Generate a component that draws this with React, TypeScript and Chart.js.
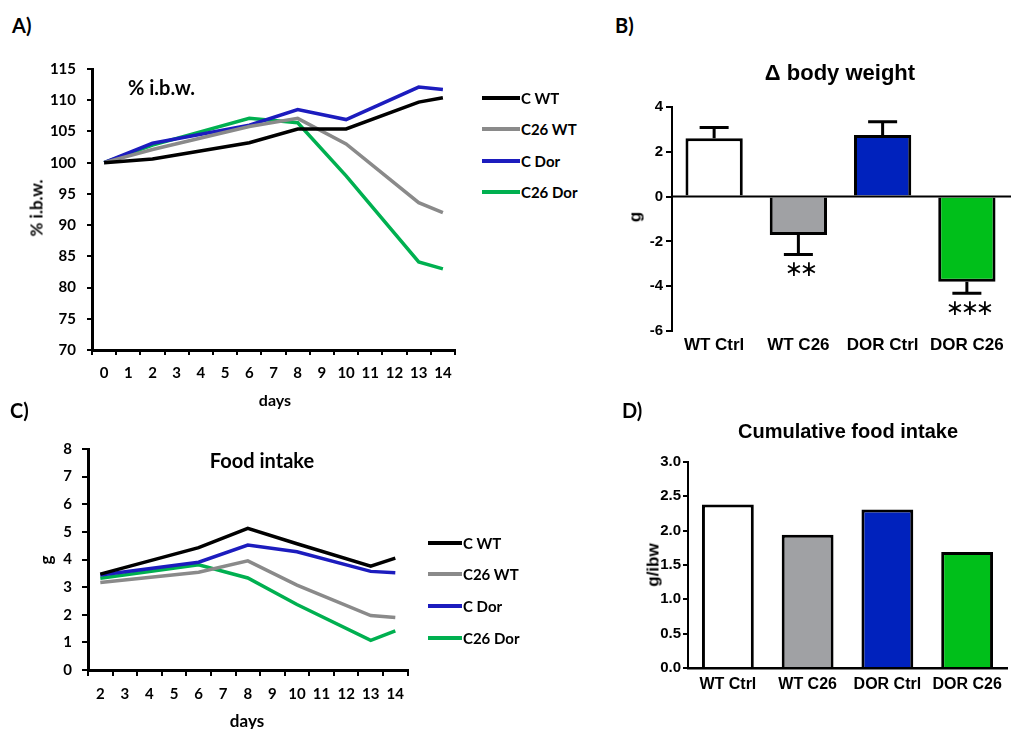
import React, { useEffect, useRef } from "react";
import { Chart, registerables } from "chart.js";
Chart.register(...registerables);

// ---------- Data ----------
const daysA = ["0", "1", "2", "3", "4", "5", "6", "7", "8", "9", "10", "11", "12", "13", "14"];
const ibwCWT = [100, null, 100.6, null, null, null, 103.2, null, 105.4, null, 105.4, null, null, 109.7, 110.4];
const ibwC26WT = [100, null, 102.1, null, null, null, 105.8, null, 107.1, null, 103.0, null, null, 93.6, 92.0];
const ibwCDor = [100, null, 103.1, null, null, null, 106.0, null, 108.5, null, 106.9, null, null, 112.1, 111.7];
const ibwC26Dor = [100, null, 102.8, null, null, null, 107.1, null, 106.4, null, 97.9, null, null, 84.1, 83.0];

const daysC = ["2", "3", "4", "5", "6", "7", "8", "9", "10", "11", "12", "13", "14"];
const foodCWT = [3.47, null, null, null, 4.43, null, 5.13, null, 4.57, null, null, 3.76, 4.05];
const foodC26WT = [3.17, null, null, null, 3.54, null, 3.95, null, 3.07, null, null, 1.97, 1.9];
const foodCDor = [3.44, null, null, null, 3.9, null, 4.52, null, 4.28, null, null, 3.57, 3.52];
const foodC26Dor = [3.32, null, null, null, 3.81, null, 3.33, null, 2.37, null, null, 1.07, 1.42];

const seriesNames = ["C WT", "C26 WT", "C Dor", "C26 Dor"];
const lineColors = ["#000000", "#8a8a8a", "#1c1cbe", "#00b050"];

const groups = ["WT Ctrl", "WT C26", "DOR Ctrl", "DOR C26"];
const barColors = ["#ffffff", "#a0a1a4", "#0022bd", "#00bf1a"];
const bwDelta = [2.6, -1.71, 2.75, -3.8];
const bwError = [0.49, 0.87, 0.59, 0.52];
const bwSig = ["", "**", "", "***"];

const cumFood = [2.38, 1.94, 2.31, 1.69];

const ARIAL = '"Liberation Sans", Arial, sans-serif';
const CALIBRI = 'Lato, "Open Sans", sans-serif';

// ---------- helpers ----------
function ChartBox(props: { left: number; top: number; width: number; height: number; make: () => any }) {
  const ref = useRef<HTMLCanvasElement>(null);
  useEffect(() => {
    const chart = new Chart(ref.current as HTMLCanvasElement, props.make());
    return () => chart.destroy();
  }, []);
  return (
    <div style={{ position: "absolute", left: props.left, top: props.top, width: props.width, height: props.height }}>
      <canvas ref={ref} width={props.width} height={props.height} style={{ width: props.width, height: props.height, display: "block" }} />
    </div>
  );
}

function Txt(props: { x: number; y: number; text: string; size: number; family: string; align?: "left" | "center" }) {
  const tx = props.align === "left" ? "0" : "-50%";
  return (
    <div
      style={{
        position: "absolute",
        left: props.x,
        top: props.y,
        transform: `translate(${tx}, -50%)`,
        fontFamily: props.family,
        fontWeight: 700,
        fontSize: props.size,
        lineHeight: 1,
        whiteSpace: "nowrap",
        color: "#000",
      }}
    >
      {props.text}
    </div>
  );
}

function RotTxt(props: { x: number; y: number; text: string; size: number; family: string }) {
  return (
    <div
      style={{
        position: "absolute",
        left: props.x,
        top: props.y,
        transform: "translate(-50%, -50%) rotate(-90deg)",
        fontFamily: props.family,
        fontWeight: 700,
        fontSize: props.size,
        lineHeight: 1,
        whiteSpace: "nowrap",
        color: "#000",
      }}
    >
      {props.text}
    </div>
  );
}

function Legend(props: { x1: number; x2: number; ys: number[]; size: number }) {
  return (
    <>
      {seriesNames.map((n, i) => (
        <React.Fragment key={n}>
          <div style={{ position: "absolute", left: props.x1, top: props.ys[i] - 2, width: props.x2 - props.x1, height: 4, background: lineColors[i] }} />
          <Txt x={props.x2 + 1} y={props.ys[i]} text={n} size={props.size} family={CALIBRI} align="left" />
        </React.Fragment>
      ))}
    </>
  );
}

function fixSize(w: number) {
  return (scale: any) => {
    scale.width = w;
  };
}
function fixHeight(h: number) {
  return (scale: any) => {
    scale.height = h;
  };
}

function lineConfig(labels: string[], data: (number | null)[][], y: { min: number; max: number; step: number }, pad: any, wY: number, hX: number, tl: number, yPad: number, xPad: number) {
  return {
    type: "line",
    data: {
      labels,
      datasets: data.map((d, i) => ({
        label: seriesNames[i],
        data: d,
        borderColor: lineColors[i],
        backgroundColor: lineColors[i],
        borderWidth: 3.5,
        pointRadius: 0,
        tension: 0,
        spanGaps: true,
        fill: false,
      })),
    },
    options: {
      responsive: false,
      animation: false,
      layout: { padding: pad },
      plugins: { legend: { display: false }, title: { display: false }, tooltip: { enabled: false } },
      scales: {
        x: {
          type: "category",
          offset: true,
          afterFit: fixHeight(hX),
          grid: { display: true, offset: true, drawOnChartArea: false, drawTicks: true, tickLength: tl, color: "#000", tickColor: "#000", lineWidth: 2 },
          border: { display: true, color: "#000", width: 3 },
          ticks: { color: "#000", font: { family: CALIBRI, weight: "bold", size: 15 }, padding: xPad, maxRotation: 0, autoSkip: false },
        },
        y: {
          min: y.min,
          max: y.max,
          afterFit: fixSize(wY),
          grid: { display: true, drawOnChartArea: false, drawTicks: true, tickLength: tl, color: "#000", tickColor: "#000", lineWidth: 2 },
          border: { display: true, color: "#000", width: 3 },
          ticks: { stepSize: y.step, color: "#000", font: { family: CALIBRI, weight: "bold", size: 15 }, padding: yPad },
        },
      },
    },
  };
}

const errPlugin = {
  id: "errbars",
  afterDatasetsDraw(chart: any) {
    const meta = chart.getDatasetMeta(0);
    const ys = chart.scales.y;
    const ctx = chart.ctx;
    const area = chart.chartArea;
    ctx.save();
    // zero line
    const y0line = ys.getPixelForValue(0);
    ctx.strokeStyle = "#000";
    ctx.lineWidth = 2;
    ctx.beginPath();
    ctx.moveTo(area.left, y0line);
    ctx.lineTo(area.right + 2, y0line);
    ctx.stroke();
    ctx.lineWidth = 3;
    meta.data.forEach((bar: any, i: number) => {
      const v = bwDelta[i];
      const e = bwError[i];
      const end = v >= 0 ? v + e : v - e;
      const y0 = ys.getPixelForValue(v);
      const y1 = ys.getPixelForValue(end);
      ctx.beginPath();
      ctx.moveTo(bar.x, y0);
      ctx.lineTo(bar.x, y1);
      ctx.moveTo(bar.x - 14.5, y1);
      ctx.lineTo(bar.x + 14.5, y1);
      ctx.stroke();
      const s = bwSig[i];
      if (s) {
        ctx.fillStyle = "#000";
        ctx.font = '22px "DejaVu Sans"';
        ctx.textAlign = "center";
        ctx.textBaseline = "middle";
        const n = s.length;
        const sp = 15;
        for (let k = 0; k < n; k++) {
          const cx = bar.x + 3 + (k - (n - 1) / 2) * sp;
          ctx.fillText("\u2217", cx, y1 + 16);
        }
      }
    });
    ctx.restore();
  },
};

function makeA() {
  return lineConfig(daysA, [ibwCWT, ibwC26WT, ibwCDor, ibwC26Dor], { min: 70, max: 115, step: 5 }, { left: 32, top: 29, right: 15, bottom: 30 }, 60, 40, 5, 11, 9);
}
function makeC() {
  return lineConfig(daysC, [foodCWT, foodC26WT, foodCDor, foodC26Dor], { min: 0, max: 8, step: 1 }, { left: 38, top: 18, right: 62.4, bottom: 19 }, 50, 40, 6, 10, 9);
}

function makeB() {
  return {
    type: "bar",
    data: {
      labels: groups,
      datasets: [
        {
          data: bwDelta,
          backgroundColor: barColors,
          borderColor: "#000",
          borderWidth: 3,
          borderSkipped: "start",
          barPercentage: 0.68,
          categoryPercentage: 1,
        },
      ],
    },
    options: {
      responsive: false,
      animation: false,
      layout: { padding: { left: 32, top: 67, right: 5, bottom: 9 } },
      plugins: { legend: { display: false }, title: { display: false }, tooltip: { enabled: false } },
      scales: {
        x: {
          afterFit: fixHeight(30),
          grid: { display: false, drawTicks: false, tickLength: 0 },
          border: { display: false },
          ticks: { color: "#000", font: { family: ARIAL, weight: "bold", size: 17 }, padding: 4, maxRotation: 0, autoSkip: false },
        },
        y: {
          min: -6,
          max: 4,
          afterFit: fixSize(40),
          grid: {
            display: true,
            drawOnChartArea: false,
            drawTicks: true,
            tickLength: 6,
            color: "#000",
            tickColor: "#000",
            lineWidth: 2,
          },
          border: { display: true, color: "#000", width: 2 },
          ticks: { stepSize: 2, color: "#000", font: { family: ARIAL, weight: "bold", size: 15 }, padding: 3 },
        },
      },
    },
    plugins: [errPlugin],
  };
}

function makeD() {
  return {
    type: "bar",
    data: {
      labels: groups,
      datasets: [
        {
          data: cumFood,
          backgroundColor: barColors,
          borderColor: "#000",
          borderWidth: 3,
          borderSkipped: "start",
          barPercentage: 0.65,
          categoryPercentage: 1,
        },
      ],
    },
    options: {
      responsive: false,
      animation: false,
      layout: { padding: { left: 13, top: 42, right: 7, bottom: 31 } },
      plugins: { legend: { display: false }, title: { display: false }, tooltip: { enabled: false } },
      scales: {
        x: {
          z: 1,
          afterFit: fixHeight(30),
          grid: { display: false, drawTicks: false, tickLength: 0 },
          border: { display: true, color: "#000", width: 2.5 },
          ticks: { color: "#000", font: { family: ARIAL, weight: "bold", size: 16 }, padding: 7, maxRotation: 0, autoSkip: false },
        },
        y: {
          min: 0,
          max: 3,
          afterFit: fixSize(45),
          grid: { display: true, drawOnChartArea: false, drawTicks: true, tickLength: 5, color: "#000", tickColor: "#000", lineWidth: 2 },
          border: { display: true, color: "#000", width: 2 },
          ticks: { stepSize: 0.5, color: "#000", font: { family: ARIAL, weight: "bold", size: 15 }, padding: 2, callback: (v: any) => Number(v).toFixed(1) },
        },
      },
    },
  };
}

export default function App() {
  return (
    <div style={{ position: "fixed", left: 0, top: 0, width: 1014, height: 729, background: "#fff", overflow: "hidden" }}>
      {/* Panel A */}
      <ChartBox left={0} top={40} width={470} height={380} make={makeA} />
      <Txt x={12} y={25} text="A)" size={20} family={CALIBRI} align="left" />
      <Txt x={128} y={87} text="% i.b.w." size={20} family={CALIBRI} align="left" />
      <RotTxt x={36} y={208} text="% i.b.w." size={17} family={CALIBRI} />
      <Txt x={275} y={400} text="days" size={16} family={CALIBRI} />
      <Legend x1={482} x2={520} ys={[98, 129, 161, 192]} size={15} />

      {/* Panel B */}
      <ChartBox left={600} top={40} width={414} height={330} make={makeB} />
      <Txt x={615} y={25} text="B)" size={20} family={CALIBRI} align="left" />
      <Txt x={840} y={73} text="Δ body weight" size={22} family={ARIAL} />
      <RotTxt x={635} y={217} text="g" size={17} family={ARIAL} />

      {/* Panel C */}
      <ChartBox left={0} top={430} width={470} height={299} make={makeC} />
      <Txt x={10} y={410} text="C)" size={20} family={CALIBRI} align="left" />
      <Txt x={262} y={460} text="Food intake" size={20} family={CALIBRI} />
      <RotTxt x={45} y={560} text="g" size={17} family={CALIBRI} />
      <Txt x={247} y={720} text="days" size={17} family={CALIBRI} />
      <Legend x1={428} x2={462} ys={[543, 574, 606, 638]} size={15} />

      {/* Panel D */}
      <ChartBox left={630} top={420} width={384} height={309} make={makeD} />
      <Txt x={622} y={410} text="D)" size={20} family={CALIBRI} align="left" />
      <Txt x={848} y={431} text="Cumulative food intake" size={20} family={ARIAL} />
      <RotTxt x={653} y={565} text="g/ibw" size={17} family={ARIAL} />
    </div>
  );
}
